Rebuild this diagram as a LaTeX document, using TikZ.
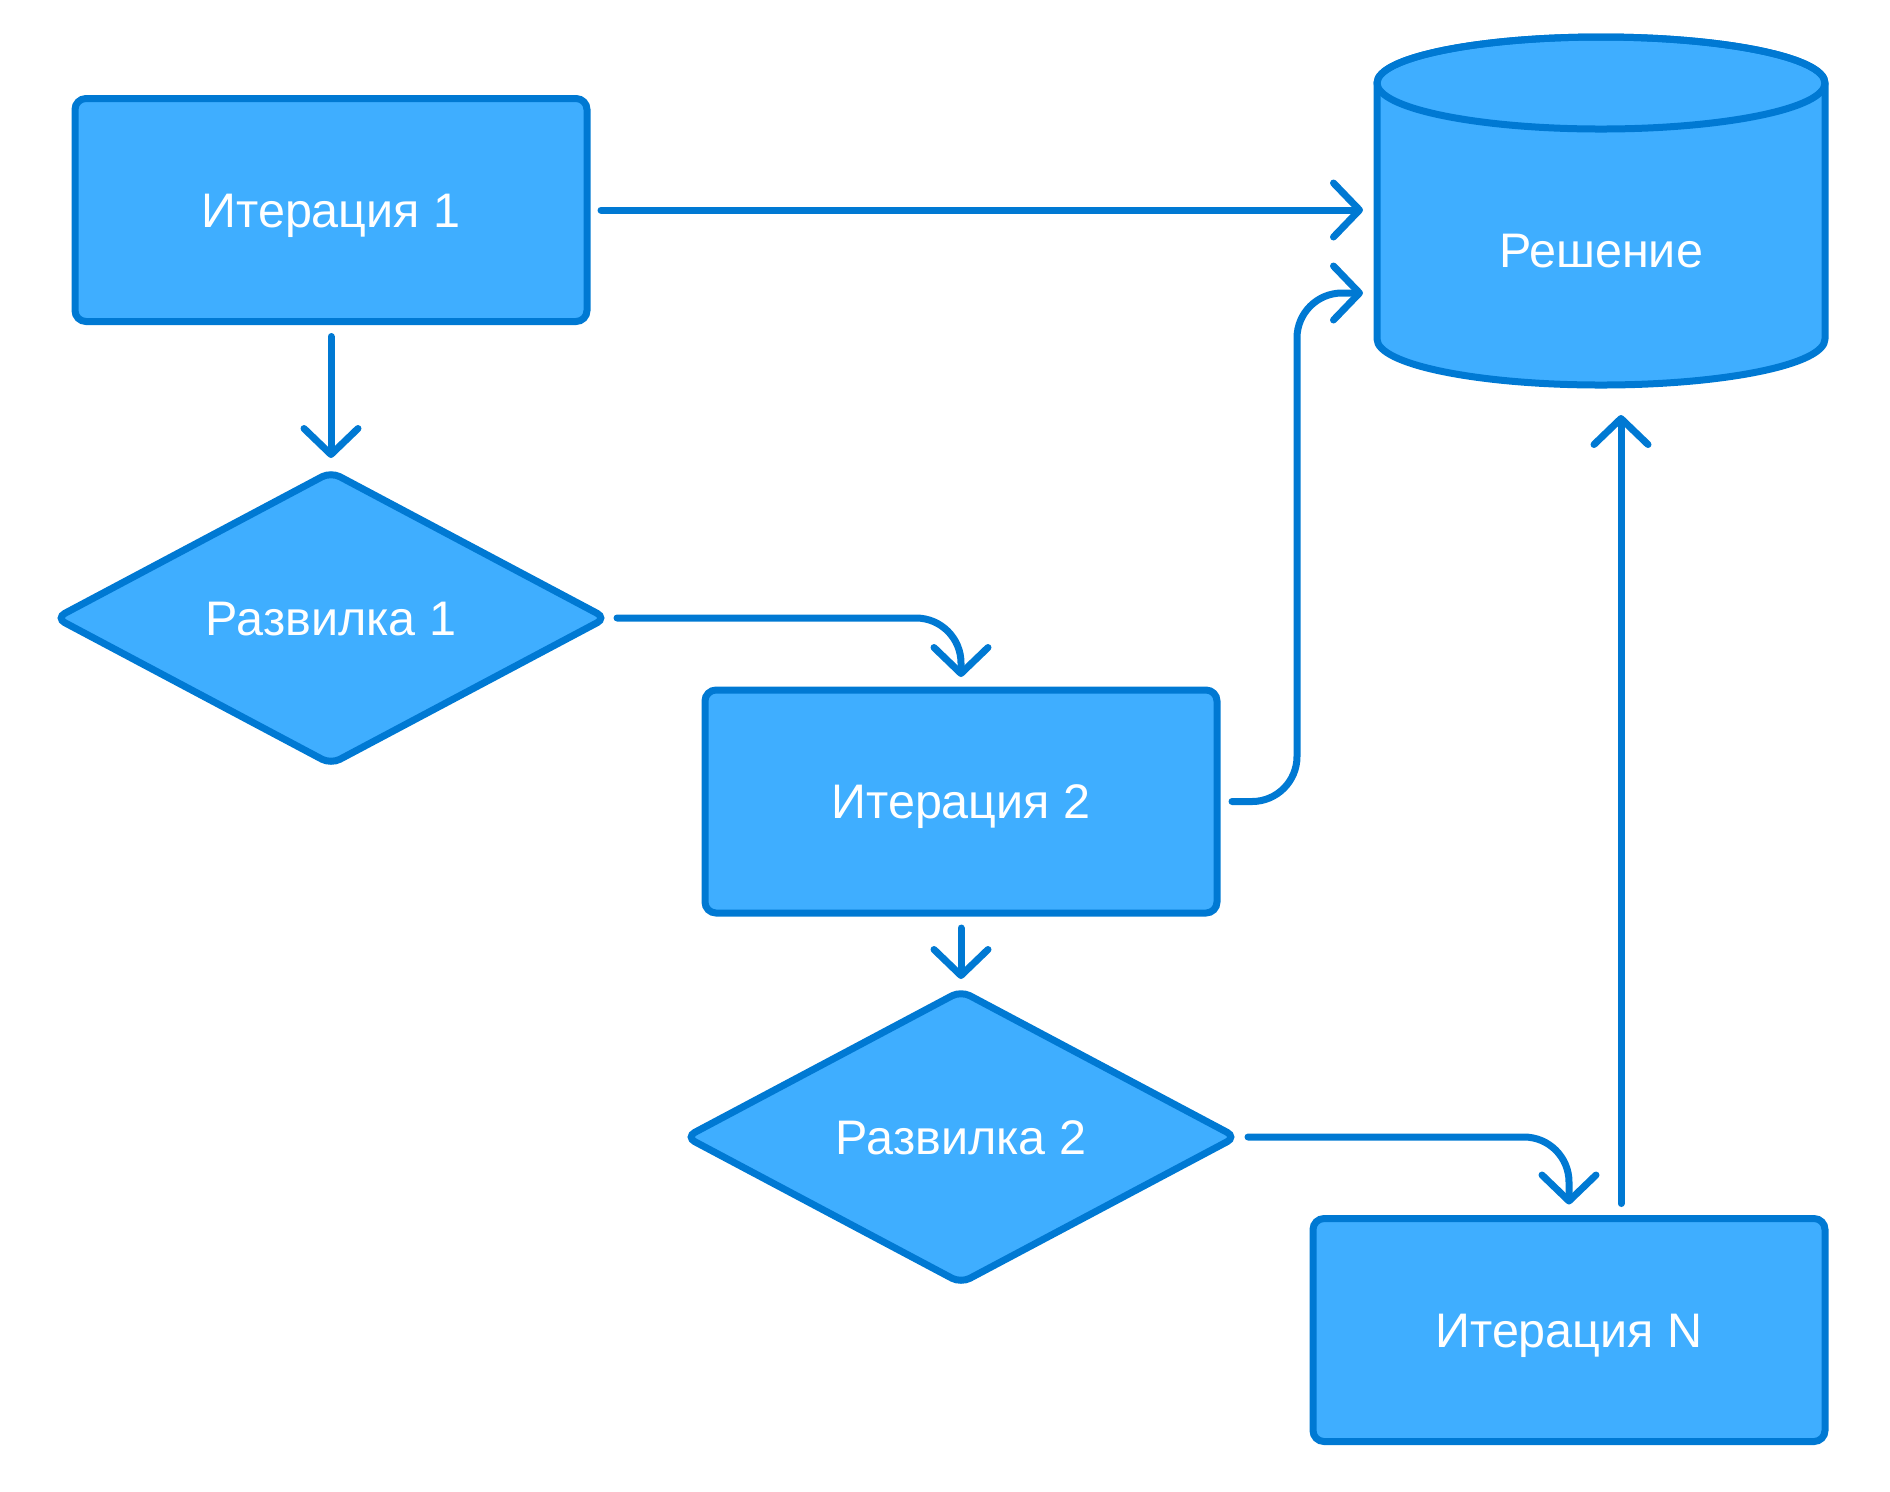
\documentclass[tikz,border=0pt]{standalone}
\usepackage{fontspec}
\setmainfont{Liberation Sans}
\usetikzlibrary{arrows.meta,shapes.geometric,calc}
\definecolor{boxfill}{HTML}{3FAEFF}
\definecolor{boxline}{HTML}{0079D3}
\begin{document}
\begin{tikzpicture}[
  font=\fontsize{13.8}{16}\selectfont,
  lbl/.style={text=white, text height=9.9pt, text depth=0pt},
  procbox/.style={lbl, draw=boxline, fill=boxfill, line width=0.07cm, rounded corners=0.11cm,
    minimum width=5.12cm, minimum height=2.23cm, inner sep=0pt, outer sep=0pt},
  forkbox/.style={lbl, diamond, draw=boxline, fill=boxfill, line width=0.07cm, rounded corners=0.1cm,
    minimum width=5.5cm, minimum height=2.92cm, inner sep=0pt, outer sep=0pt},
  cylline/.style={draw=boxline, line width=0.07cm, line join=round},
  conn/.style={draw=boxline, line width=0.07cm, line cap=round, line join=round,
    -{Straight Barb[length=0.26cm, width=0.54cm, line cap=round, line join=round]}},
]
\useasboundingbox (0,0) rectangle (18.9,-14.91);

% nodes
\node[procbox] (it1) at (3.31,-2.10) {Итерация 1};
\node[forkbox] (d1) at (3.31,-6.18) {Развилка 1};
\node[procbox] (it2) at (9.61,-8.015) {Итерация 2};
\node[forkbox] (d2) at (9.61,-11.37) {Развилка 2};
\node[procbox] (itN) at (15.69,-13.30) {Итерация N};

% cylinder (Решение)
\filldraw[cylline, fill=boxfill] (13.77,-0.83) -- (13.77,-3.39)
  arc[start angle=180, end angle=360, x radius=2.24, y radius=0.46]
  -- (18.25,-0.83)
  arc[start angle=0, end angle=180, x radius=2.24, y radius=0.46] -- cycle;
\draw[cylline] (16.01,-0.83) ellipse[x radius=2.24, y radius=0.46];
\node[lbl] (sol) at (16.01,-2.50) {Решение};

\coordinate (solA) at (13.63,-2.10);
\coordinate (solB) at (13.63,-2.93);
\coordinate (solC) at (16.21,-4.15);

% connectors
\draw[conn] ([xshift=0.14cm]it1.east) -- (solA);
\draw[conn] ([yshift=-0.15cm]it1.south) -- ([yshift=0.14cm]d1.north);
\draw[conn, rounded corners=0.45cm] ([xshift=0.11cm]d1.east) -| ([yshift=0.13cm]it2.north);
\draw[conn] ([yshift=-0.15cm]it2.south) -- ([yshift=0.12cm]d2.north);
\draw[conn, rounded corners=0.45cm] ([xshift=0.15cm]it2.east) -- ++(0.65,0) |- (solB);
\draw[conn, rounded corners=0.45cm] ([xshift=0.12cm]d2.east) -| ([yshift=0.14cm]itN.north);
\draw[conn] ([xshift=0.52cm,yshift=0.15cm]itN.north) -- (solC);
\end{tikzpicture}
\end{document}
